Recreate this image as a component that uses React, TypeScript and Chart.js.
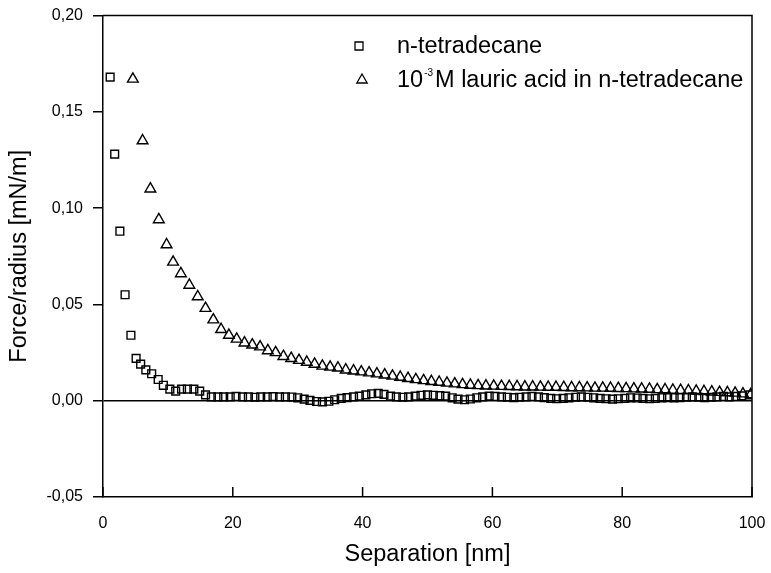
import { useEffect, useRef } from 'react';
import { Chart, registerables } from 'chart.js';

Chart.register(...registerables);

// Force/radius vs. separation for pure n-tetradecane (squares)
const tetradecaneX = [
  1.1, 1.8, 2.6, 3.4, 4.3, 5.1, 5.8, 6.6, 7.5, 8.5, 9.3, 10.3, 11.2, 12.1, 13.0, 14.0, 14.9,
  15.8, 16.7, 17.7, 18.6, 19.6, 20.5, 21.5, 22.4, 23.4, 24.3,
  25.3, 26.2, 27.2, 28.1, 29.1, 30.0, 31.0, 31.9, 32.9, 33.8,
  34.8, 35.7, 36.7, 37.6, 38.6, 39.5, 40.5, 41.4, 42.4, 43.3,
  44.3, 45.2, 46.2, 47.1, 48.1, 49.0, 50.0, 50.9, 51.9, 52.8,
  53.8, 54.7, 55.7, 56.6, 57.6, 58.5, 59.5, 60.4, 61.4, 62.3,
  63.3, 64.2, 65.2, 66.1, 67.1, 68.0, 69.0, 69.9, 70.9, 71.8,
  72.8, 73.7, 74.7, 75.6, 76.6, 77.5, 78.5, 79.4, 80.4, 81.3,
  82.3, 83.2, 84.2, 85.1, 86.1, 87.0, 88.0, 88.9, 89.9, 90.8,
  91.8, 92.7, 93.7, 94.6, 95.6, 96.5, 97.5, 98.4, 99.7,
];
const tetradecaneY = [
  0.168, 0.128, 0.088, 0.055, 0.034, 0.022, 0.019, 0.016, 0.014, 0.011, 0.008, 0.006, 0.005, 0.006, 0.006, 0.006, 0.005,
  0.003, 0.002, 0.002, 0.002, 0.002, 0.0022, 0.002, 0.002, 0.0018, 0.002,
  0.002, 0.0021, 0.002, 0.002, 0.0019, 0.0015, 0.0008, 0.0002, -0.0004, -0.0006,
  -0.0003, 0.0005, 0.0012, 0.0016, 0.002, 0.0024, 0.003, 0.0036, 0.0038, 0.0033,
  0.0024, 0.002, 0.0018, 0.002, 0.0024, 0.0028, 0.003, 0.0028, 0.0026, 0.0024,
  0.0015, 0.0008, 0.0005, 0.0009, 0.0015, 0.002, 0.0024, 0.0022, 0.002, 0.0018,
  0.0016, 0.0018, 0.002, 0.0022, 0.002, 0.0016, 0.0012, 0.001, 0.0012, 0.0015,
  0.0018, 0.002, 0.0018, 0.0015, 0.0012, 0.001, 0.0008, 0.001, 0.0012, 0.0015,
  0.0014, 0.0012, 0.001, 0.0012, 0.0015, 0.0016, 0.0015, 0.0016, 0.0018, 0.002,
  0.0018, 0.0016, 0.0018, 0.002, 0.0022, 0.002, 0.0022, 0.0025, 0.003,
];

// Force/radius vs. separation with 10^-3 M lauric acid added (triangles)
const lauricX = [
  4.6, 6.1, 7.3, 8.6, 9.8, 10.8, 12.0, 13.3, 14.6, 15.8,
  17.0, 18.2, 19.4, 20.6, 21.8, 23.0, 24.2, 25.4, 26.6, 27.8,
  29.0, 30.2, 31.4, 32.6, 33.8, 35.0, 36.2, 37.4, 38.6, 39.8,
  41.0, 42.2, 43.4, 44.6, 45.8, 47.0, 48.2, 49.4, 50.6, 51.8,
  53.0, 54.2, 55.4, 56.6, 57.8, 59.0, 60.2, 61.4, 62.6, 63.8,
  65.0, 66.2, 67.4, 68.6, 69.8, 71.0, 72.2, 73.4, 74.6, 75.8,
  77.0, 78.2, 79.4, 80.6, 81.8, 83.0, 84.2, 85.4, 86.6, 87.8,
  89.0, 90.2, 91.4, 92.6, 93.8, 95.0, 96.2, 97.4, 98.6, 99.8,
];
const lauricY = [
  0.167, 0.135, 0.110, 0.094, 0.081, 0.072, 0.066, 0.060, 0.054, 0.048,
  0.042, 0.037, 0.034, 0.032, 0.030, 0.029, 0.028, 0.026, 0.025, 0.023,
  0.022, 0.021, 0.020, 0.019, 0.018, 0.0175, 0.017, 0.016, 0.0155, 0.015,
  0.0145, 0.014, 0.0134, 0.0128, 0.0122, 0.0116, 0.011, 0.0105, 0.010, 0.0096,
  0.0092, 0.0088, 0.0084, 0.0081, 0.0079, 0.0077, 0.0076, 0.0075, 0.0074, 0.0073,
  0.0072, 0.0072, 0.0071, 0.0070, 0.0070, 0.0069, 0.0068, 0.0068, 0.0067, 0.0066,
  0.0066, 0.0065, 0.0064, 0.0063, 0.0062, 0.0061, 0.0060, 0.0058, 0.0057, 0.0055,
  0.0054, 0.0052, 0.0050, 0.0048, 0.0046, 0.0044, 0.0042, 0.0040, 0.0036, 0.0032,
];

const xRange = [0, 100];
const xStep = 20;
const yRange = [-0.05, 0.2];
const yStep = 0.05;

const xTitle = 'Separation [nm]';
const yTitle = 'Force/radius [mN/m]';
const legendPlain = 'n-tetradecane';
const legendAcidBase = '10';
const legendAcidExp = '-3';
const legendAcidRest = 'M lauric acid in n-tetradecane';

const FONT = '"Liberation Sans", Arial, Helvetica, sans-serif';
const INK = '#000';

const toPoints = (xs: number[], ys: number[]) => xs.map((x, i) => ({ x, y: ys[i] }));

// Square / triangle glyphs used in the in-plot key
function drawSquare(ctx: CanvasRenderingContext2D, x: number, y: number, half: number) {
  ctx.beginPath();
  ctx.rect(x - half, y - half, half * 2, half * 2);
  ctx.stroke();
}
function drawTriangle(ctx: CanvasRenderingContext2D, x: number, y: number, r: number) {
  ctx.beginPath();
  for (let k = 0; k < 3; k++) {
    const a = (k * 2 * Math.PI) / 3;
    const px = x + Math.sin(a) * r;
    const py = y - Math.cos(a) * r;
    if (k === 0) ctx.moveTo(px, py);
    else ctx.lineTo(px, py);
  }
  ctx.closePath();
  ctx.stroke();
}

// Box frame (top + right), inward x tick marks and the key
const framePlugin = {
  id: 'frameAndKey',
  afterDraw(chart: any) {
    const { ctx, chartArea } = chart;
    const { left, right, top, bottom } = chartArea;
    ctx.save();
    ctx.strokeStyle = INK;
    ctx.lineWidth = 1.5;
    ctx.beginPath();
    ctx.moveTo(left, top);
    ctx.lineTo(right, top);
    ctx.lineTo(right, bottom);
    ctx.stroke();

    // x ticks point into the plot
    const xs = chart.scales.x;
    xs.ticks.forEach((t: any) => {
      const px = xs.getPixelForValue(t.value);
      ctx.beginPath();
      ctx.moveTo(px, bottom);
      ctx.lineTo(px, bottom - 10);
      ctx.stroke();
    });

    // key
    ctx.lineWidth = 1.3;
    drawSquare(ctx, 359, 46, 4);
    drawTriangle(ctx, 362, 80, 6);
    ctx.fillStyle = INK;
    ctx.textBaseline = 'alphabetic';
    ctx.textAlign = 'left';
    ctx.font = `23.5px ${FONT}`;
    ctx.fillText(legendPlain, 397, 53);
    let tx = 397;
    ctx.fillText(legendAcidBase, tx, 87);
    tx += ctx.measureText(legendAcidBase).width + 1;
    ctx.font = `10px ${FONT}`;
    ctx.fillText(legendAcidExp, tx, 76);
    tx += ctx.measureText(legendAcidExp).width + 2;
    ctx.font = `23.5px ${FONT}`;
    ctx.fillText(legendAcidRest, tx, 87);
    ctx.restore();
  },
};

export default function App() {
  const canvasRef = useRef<HTMLCanvasElement | null>(null);

  useEffect(() => {
    const canvas = canvasRef.current;
    if (!canvas) return;
    const chart = new Chart(canvas, {
      type: 'scatter',
      data: {
        datasets: [
          {
            label: legendPlain,
            data: toPoints(tetradecaneX, tetradecaneY),
            pointStyle: 'rect',
            pointRadius: 5.5,
            pointBorderWidth: 1.4,
            borderColor: INK,
            backgroundColor: 'rgba(0,0,0,0)',
            showLine: false,
          },
          {
            label: legendAcidBase + legendAcidExp + legendAcidRest,
            data: toPoints(lauricX, lauricY),
            pointStyle: 'triangle',
            pointRadius: 6.2,
            pointBorderWidth: 1.4,
            borderColor: INK,
            backgroundColor: 'rgba(0,0,0,0)',
            showLine: false,
          },
        ],
      },
      options: {
        responsive: false,
        animation: false,
        events: [],
        layout: { padding: { left: 0, top: 15.5, right: 19, bottom: 0 } },
        plugins: {
          legend: { display: false },
          tooltip: { enabled: false },
          title: { display: false },
        },
        scales: {
          x: {
            type: 'linear',
            min: xRange[0],
            max: xRange[1],
            ticks: {
              stepSize: xStep,
              padding: 17,
              color: INK,
              font: { family: FONT, size: 16 },
              maxRotation: 0,
            },
            grid: { display: false, drawTicks: false },
            border: { display: true, color: INK, width: 1.5 },
            title: {
              display: true,
              text: xTitle,
              color: INK,
              font: { family: FONT, size: 23.5 },
              padding: { top: 0, bottom: 4 },
            },
            afterFit: (s: any) => {
              s.height = 76;
              s.paddingLeft = 0;
              s.paddingRight = 0;
            },
          },
          y: {
            type: 'linear',
            min: yRange[0],
            max: yRange[1],
            ticks: {
              stepSize: yStep,
              padding: 10,
              color: INK,
              font: { family: FONT, size: 16 },
              callback: (v: any) => Number(v).toFixed(2).replace('.', ','),
            },
            grid: {
              drawOnChartArea: true,
              drawTicks: true,
              tickLength: 10,
              tickColor: INK,
              tickWidth: 1.5,
              lineWidth: 1.5,
              color: (c: any) => (c.tick && Math.abs(c.tick.value) < 1e-9 ? INK : 'rgba(0,0,0,0)'),
            },
            border: { display: true, color: INK, width: 1.5 },
            title: {
              display: true,
              text: yTitle,
              color: INK,
              font: { family: FONT, size: 23.5 },
              padding: { top: 5, bottom: 0 },
            },
            afterFit: (s: any) => {
              s.width = 103;
              s.paddingTop = 0;
              s.paddingBottom = 0;
            },
          },
        },
      },
      plugins: [framePlugin],
    });
    return () => chart.destroy();
  }, []);

  return (
    <div style={{ position: 'fixed', left: 0, top: 0, width: 771, height: 573, background: '#fff' }}>
      <canvas ref={canvasRef} width={771} height={573} style={{ display: 'block' }} />
    </div>
  );
}
